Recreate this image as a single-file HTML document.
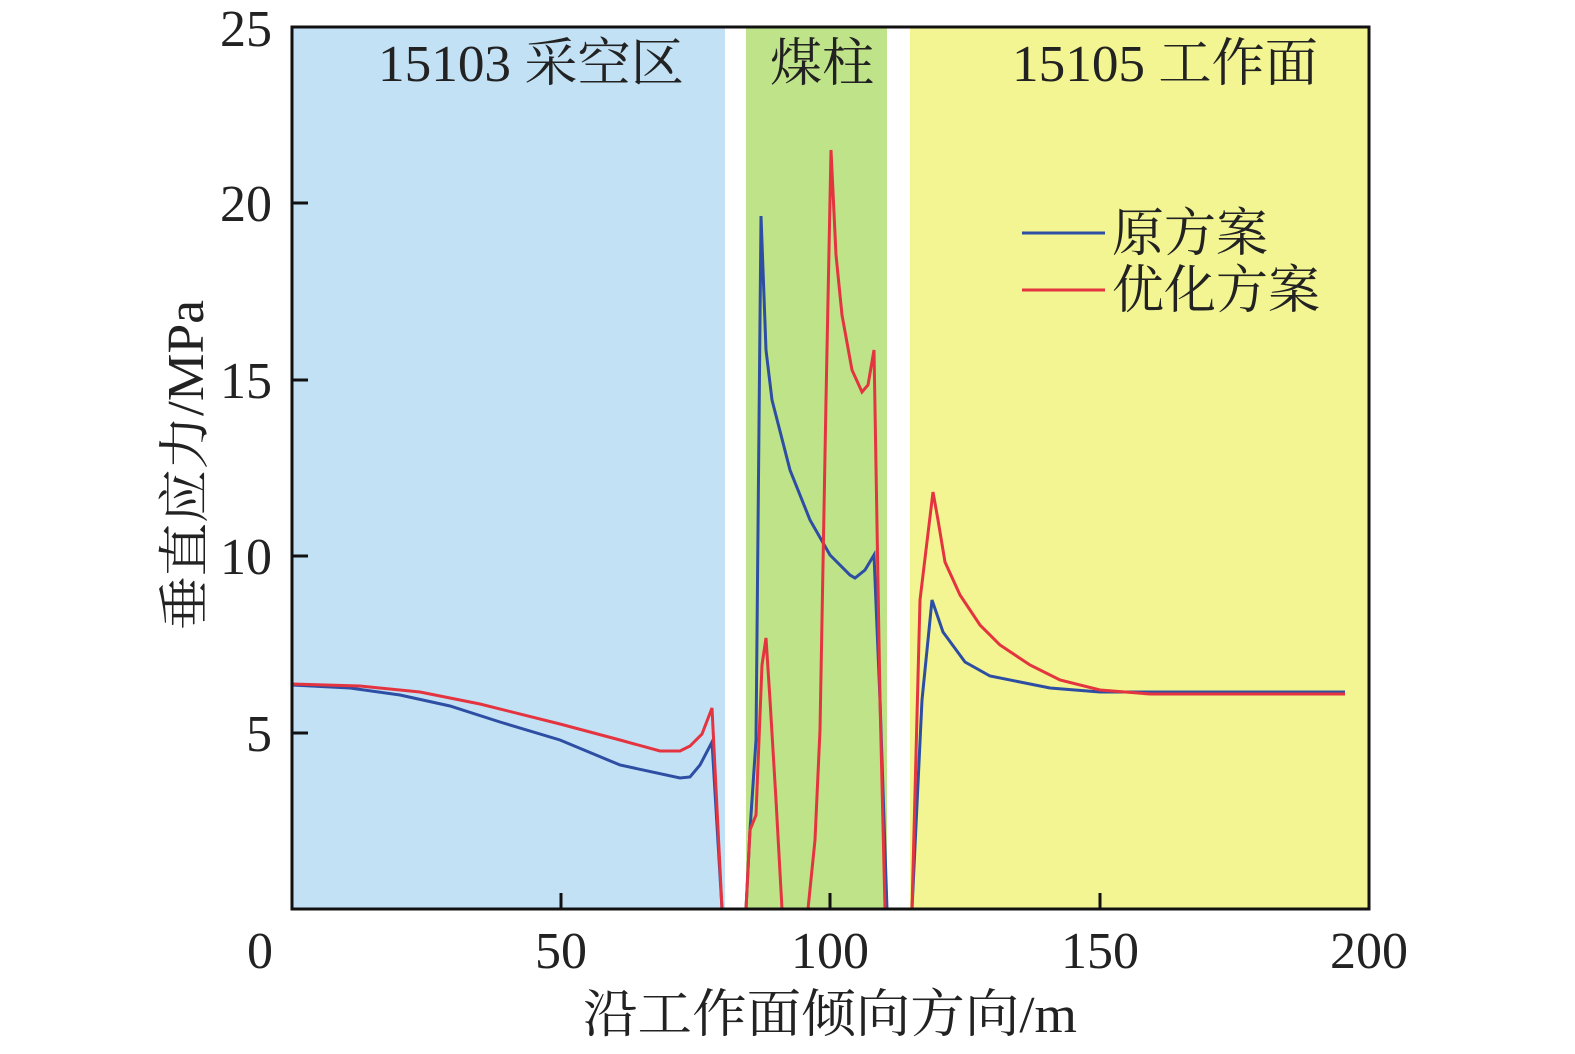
<!DOCTYPE html>
<html><head><meta charset="utf-8"><style>
html,body{margin:0;padding:0;background:#fff;}
svg{display:block}
text{font-family:"Liberation Serif","Noto Serif CJK SC",serif;fill:#222;}
</style></head><body>
<svg width="1575" height="1054" viewBox="0 0 1575 1054" xmlns="http://www.w3.org/2000/svg">
<rect x="292" y="27" width="433" height="882" fill="#c2e1f5"/>
<rect x="746" y="27" width="141" height="882" fill="#bfe388"/>
<rect x="910" y="27" width="459" height="882" fill="#f2f591"/>
<g font-size="52">
<text x="378" y="81" textLength="306" lengthAdjust="spacingAndGlyphs">15103 采空区</text>
<text x="770" y="81">煤柱</text>
<text x="1012" y="81" textLength="306" lengthAdjust="spacingAndGlyphs">15105 工作面</text>
</g>
<polyline fill="none" stroke="#2d4ea3" stroke-width="3" points="292,685 350,688 400,695 450,706 500,722 560,740 620,765 680,778 690,777 700,765 712,742 722,909 746,909 750,830 756,740 761,216 766,350 772,400 790,470 810,520 830,555 850,575 855,578 865,570 874,555 880,700 887,909 912,909 922,700 932,600 943,632 965,662 990,676 1050,688 1100,692 1345,692"/>
<polyline fill="none" stroke="#e4343f" stroke-width="3" points="292,684 360,686 420,692 480,704 560,724 620,740 660,751 680,751 690,746 702,734 712,708 722,909 746,909 750,830 756,815 762,665 766,638 770,700 776,800 782,909 808,909 815,840 820,730 826,400 831,150 836,255 842,315 852,370 862,392 868,385 874,350 880,700 885,909 912,909 920,600 926,550 933,492 938,520 945,562 960,595 980,625 1000,645 1030,665 1060,680 1100,690 1150,694 1345,694"/>
<rect x="292" y="27" width="1077" height="882" fill="none" stroke="#111" stroke-width="3"/>
<g stroke="#111" stroke-width="3">
<line x1="292" y1="733" x2="308" y2="733"/><line x1="292" y1="556" x2="308" y2="556"/>
<line x1="292" y1="380" x2="308" y2="380"/><line x1="292" y1="203" x2="308" y2="203"/>
<line x1="561" y1="909" x2="561" y2="893"/><line x1="830" y1="909" x2="830" y2="893"/>
<line x1="1100" y1="909" x2="1100" y2="893"/>
</g>
<g font-size="52" text-anchor="end">
<text x="272" y="751">5</text><text x="272" y="574">10</text><text x="272" y="398">15</text>
<text x="272" y="221">20</text><text x="272" y="46">25</text>
</g>
<g font-size="52" text-anchor="middle">
<text x="260" y="968">0</text><text x="561" y="968">50</text><text x="830" y="968">100</text>
<text x="1100" y="968">150</text><text x="1369" y="968">200</text>
<text x="830" y="1032" textLength="494" lengthAdjust="spacingAndGlyphs">沿工作面倾向方向/m</text>
</g>
<text font-size="52" text-anchor="middle" transform="translate(203,465) rotate(-90)" textLength="330" lengthAdjust="spacingAndGlyphs">垂直应力/MPa</text>
<line x1="1022" y1="233" x2="1105" y2="233" stroke="#2d4ea3" stroke-width="3"/>
<line x1="1022" y1="290" x2="1105" y2="290" stroke="#e4343f" stroke-width="3"/>
<g font-size="52"><text x="1112" y="251">原方案</text><text x="1112" y="308">优化方案</text></g>
</svg>
</body></html>
